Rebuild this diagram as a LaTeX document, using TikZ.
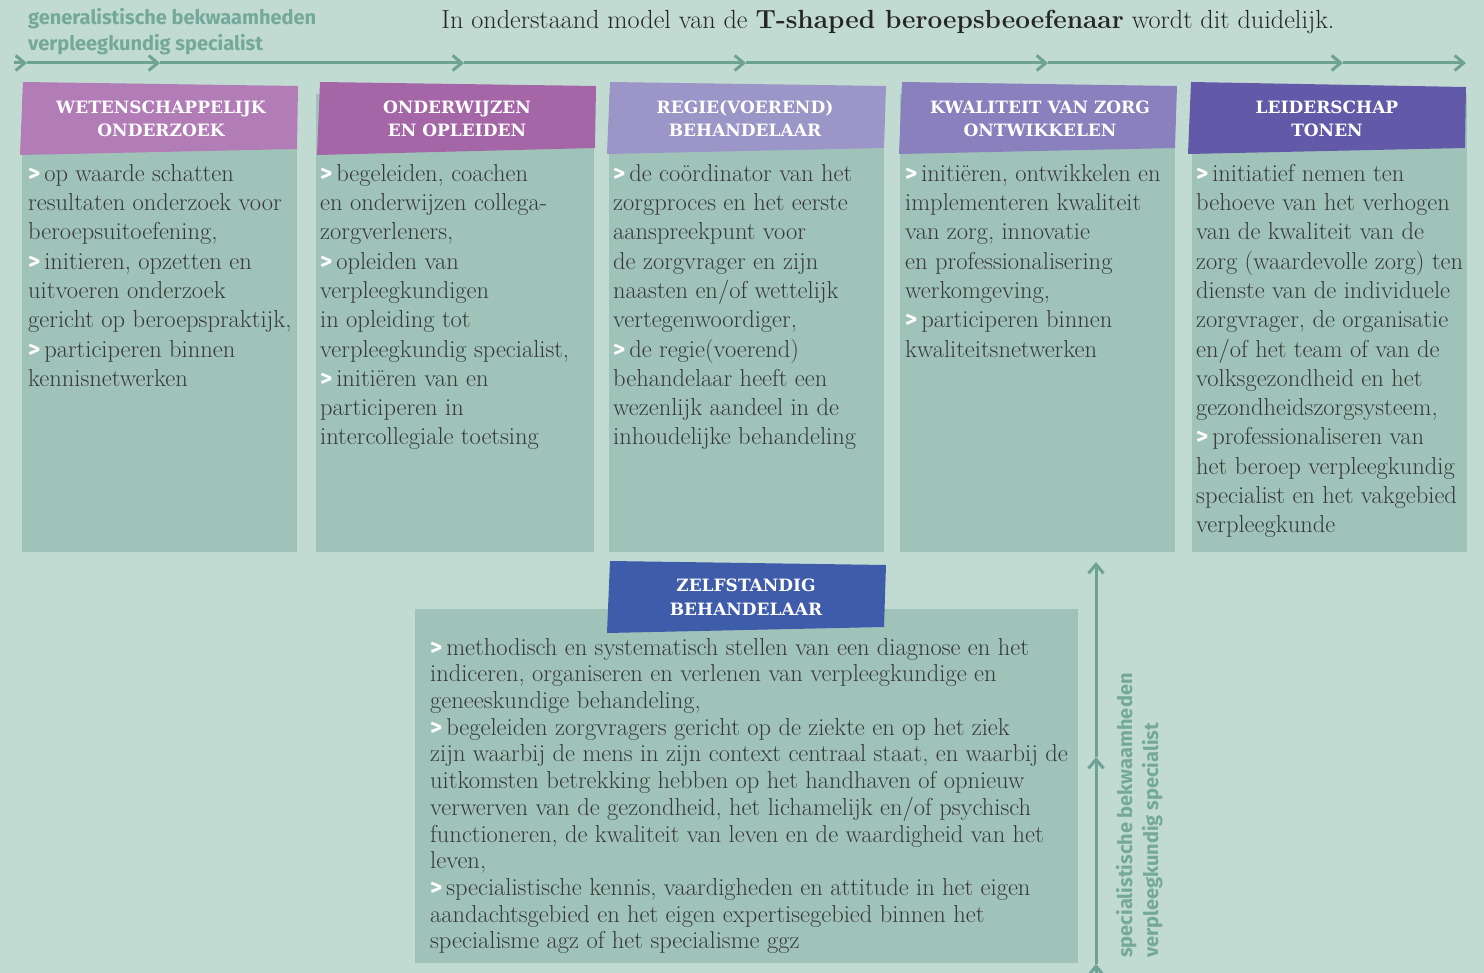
\documentclass[tikz,border=0pt]{standalone}
\usepackage{fontspec}
\usetikzlibrary{arrows.meta}
\newfontfamily\hdfont{DejaVu Serif}
\newfontfamily\lblfont{Fira Sans}
\definecolor{bg}{HTML}{C1DBD2}
\definecolor{boxc}{HTML}{A0C3B9}
\definecolor{arrc}{HTML}{6EA292}
\definecolor{lbl}{HTML}{74A898}
\definecolor{txt}{HTML}{383838}
\definecolor{hA}{HTML}{B27CB7}
\definecolor{hB}{HTML}{A566A8}
\definecolor{hC}{HTML}{9B95C8}
\definecolor{hD}{HTML}{8A80BD}
\definecolor{hE}{HTML}{6259A8}
\definecolor{hF}{HTML}{3F5CAA}
\newcommand{\bul}{\textcolor{white}{\scalebox{0.95}{\lblfont\bfseries >}}\hspace{4pt}}
\tikzset{
  bodytext/.style={anchor=north west, inner sep=0pt, align=left, text=txt,
    font=\fontsize{24.5}{29.3}\selectfont},
  bottomtext/.style={bodytext, font=\fontsize{24.5}{26.7}\selectfont},
  hdtext/.style={anchor=base, inner sep=0pt, align=center, text=white,
    font=\hdfont\bfseries\fontsize{17}{23.6}\selectfont},
  lbltext/.style={anchor=base west, inner sep=0pt, align=left, text=lbl,
    font=\lblfont\bfseries\fontsize{20}{26}\selectfont},
  arrline/.style={draw=arrc, line width=3pt,
    -{Straight Barb[length=9pt,width=15pt,line width=3pt]}},
}
\begin{document}
\begin{tikzpicture}[x=1pt,y=-1pt]
\fill[bg] (0,0) rectangle (1484,973);
\useasboundingbox (0,0) rectangle (1484,973);

% title and label
\node[anchor=base, inner sep=0pt, text=black!85, font=\fontsize{26.2}{30}\selectfont] (title) at (888,29)
  {In onderstaand model van de \textbf{T-shaped beroepsbeoefenaar} wordt dit duidelijk.};
\node[lbltext] (glabel) at (28,51) {generalistische bekwaamheden\\verpleegkundig specialist};

% top arrow
\coordinate (a0) at (14,63);
\coordinate (a1) at (27,63);
\coordinate (a2) at (160,63);
\coordinate (a3) at (464,63);
\coordinate (a4) at (746,63);
\coordinate (a5) at (1048,63);
\coordinate (a6) at (1343,63);
\coordinate (a7) at (1466,63);
\draw[arrline] (a0) -- (a1);
\draw[arrline] (a1) -- (a2);
\draw[arrline] (a2) -- (a3);
\draw[arrline] (a3) -- (a4);
\draw[arrline] (a4) -- (a5);
\draw[arrline] (a5) -- (a6);
\draw[arrline] (a6) -- (a7);

% bodies
\fill[boxc] (22,94) rectangle (297,552);
\fill[boxc] (316,94) rectangle (594,552);
\fill[boxc] (609,94) rectangle (884,552);
\fill[boxc] (900,94) rectangle (1175,552);
\fill[boxc] (1192,94) rectangle (1467,552);
\fill[boxc] (415,609) rectangle (1078,963);

% headers
\fill[hA] (23,82) -- (298,86) -- (297,149) -- (20,155) -- cycle;
\fill[hB] (320,82) -- (596,86) -- (595,148) -- (317,155) -- cycle;
\fill[hC] (610,82) -- (886,86) -- (884,148) -- (607,154) -- cycle;
\fill[hD] (902,82) -- (1177,86) -- (1175,148) -- (899,154) -- cycle;
\fill[hE] (1191,82) -- (1466,87) -- (1465,148) -- (1188,154) -- cycle;
\fill[hF] (610,561) -- (886,565) -- (884,627) -- (607,633) -- cycle;

\node[hdtext] (h1) at (161,137) {WETENSCHAPPELIJK\\ONDERZOEK};
\node[hdtext] (h2) at (457,137) {ONDERWIJZEN\\EN OPLEIDEN};
\node[hdtext] (h3) at (745,137) {REGIE(VOEREND)\\BEHANDELAAR};
\node[hdtext] (h4) at (1040,137) {KWALITEIT VAN ZORG\\ONTWIKKELEN};
\node[hdtext] (h5) at (1327,137) {LEIDERSCHAP\\TONEN};
\node[hdtext] (h6) at (746,615) {ZELFSTANDIG\\BEHANDELAAR};

% body texts
\node[bodytext] (b1) at (28,160.5) {\strut\bul op waarde schatten\\resultaten onderzoek voor\\beroepsuitoefening,\\\bul initieren, opzetten en\\uitvoeren onderzoek\\gericht op beroepspraktijk,\\\bul participeren binnen\\kennisnetwerken};
\node[bodytext] (b2) at (320,160.5) {\strut\bul begeleiden, coachen\\en onderwijzen collega-\\zorgverleners,\\\bul opleiden van\\verpleegkundigen\\in opleiding tot\\verpleegkundig specialist,\\\bul initiëren van en\\participeren in\\intercollegiale toetsing};
\node[bodytext] (b3) at (613,160.5) {\strut\bul de coördinator van het\\zorgproces en het eerste\\aanspreekpunt voor\\de zorgvrager en zijn\\naasten en/of wettelijk\\vertegenwoordiger,\\\bul de regie(voerend)\\behandelaar heeft een\\wezenlijk aandeel in de\\inhoudelijke behandeling};
\node[bodytext] (b4) at (905,160.5) {\strut\bul initiëren, ontwikkelen en\\implementeren kwaliteit\\van zorg, innovatie\\en professionalisering\\werkomgeving,\\\bul participeren binnen\\kwaliteitsnetwerken};
\node[bodytext] (b5) at (1196,160.5) {\strut\bul initiatief nemen ten\\behoeve van het verhogen\\van de kwaliteit van de\\zorg (waardevolle zorg) ten\\dienste van de individuele\\zorgvrager, de organisatie\\en/of het team of van de\\volksgezondheid en het\\gezondheidszorgsysteem,\\\bul professionaliseren van\\het beroep verpleegkundig\\specialist en het vakgebied\\verpleegkunde};
\node[bottomtext] (b6) at (430,636.3) {\strut\bul methodisch en systematisch stellen van een diagnose en het\\indiceren, organiseren en verlenen van verpleegkundige en\\geneeskundige behandeling,\\\bul begeleiden zorgvragers gericht op de ziekte en op het ziek\\zijn waarbij de mens in zijn context centraal staat, en waarbij de\\uitkomsten betrekking hebben op het handhaven of opnieuw\\verwerven van de gezondheid, het lichamelijk en/of psychisch\\functioneren, de kwaliteit van leven en de waardigheid van het\\leven,\\\bul specialistische kennis, vaardigheden en attitude in het eigen\\aandachtsgebied en het eigen expertisegebied binnen het\\specialisme agz of het specialisme ggz};

% vertical arrow
\coordinate (v0) at (1096,990);
\coordinate (v1) at (1096,964);
\coordinate (v2) at (1096,757);
\coordinate (v3) at (1096,562);
\draw[arrline] (v0) -- (v1);
\draw[arrline] (v1) -- (v2);
\draw[arrline] (v2) -- (v3);
\node[lbltext, rotate=90] (slabel) at (1158,958) {specialistische bekwaamheden\\verpleegkundig specialist};
\end{tikzpicture}
\end{document}
